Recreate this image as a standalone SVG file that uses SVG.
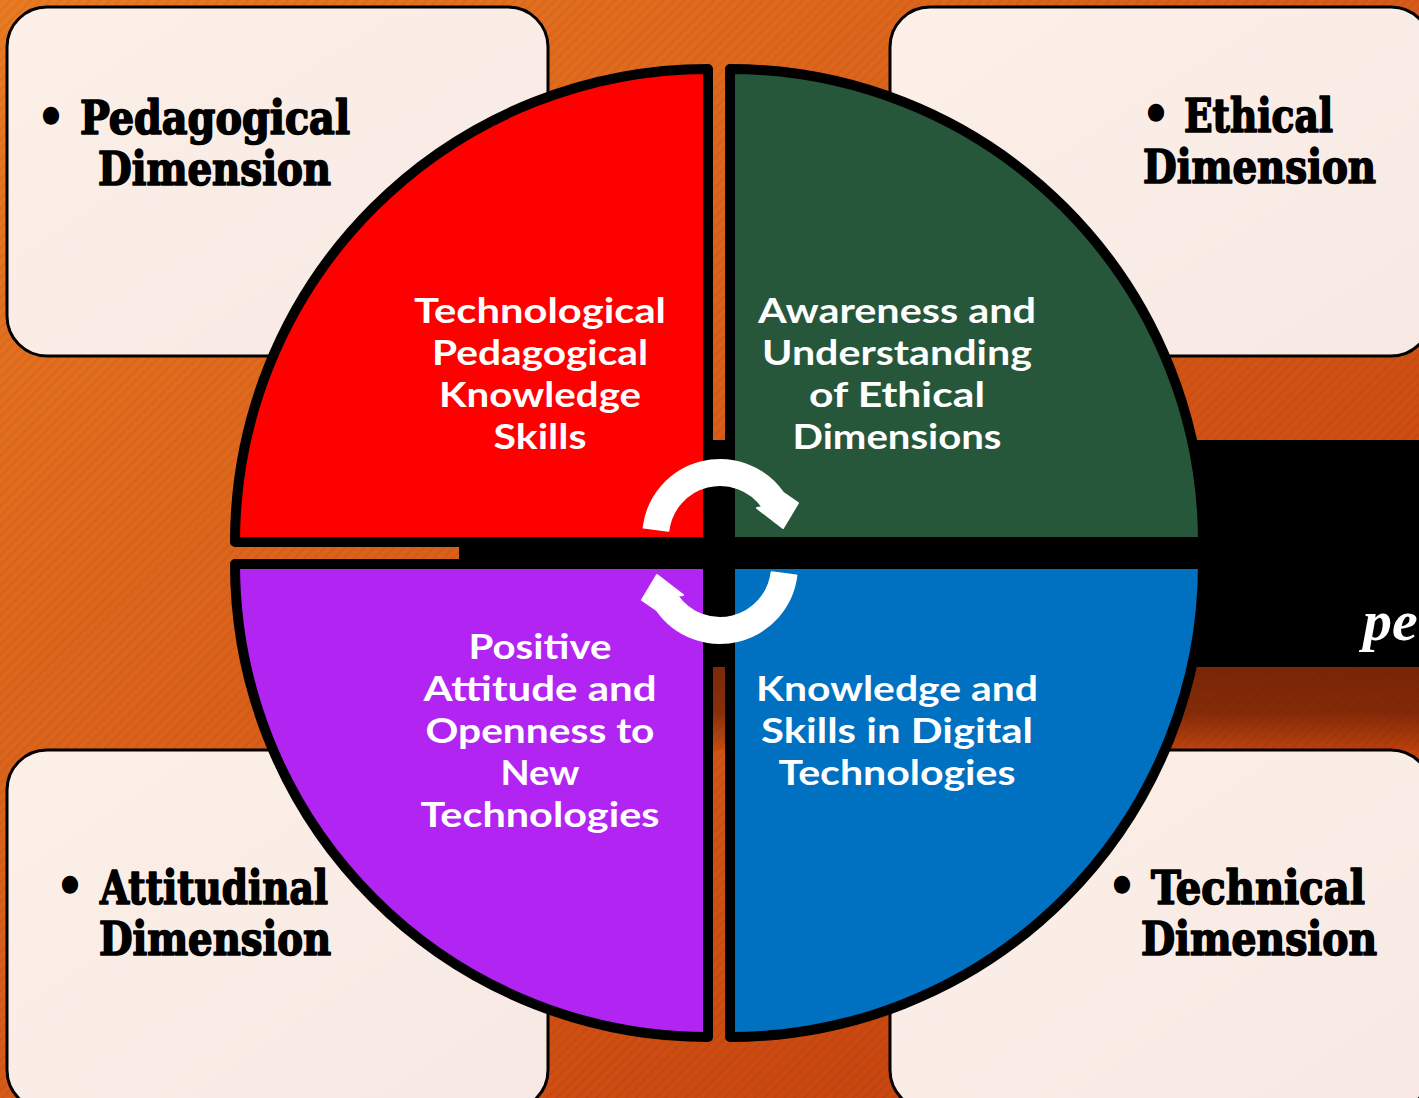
<svg xmlns="http://www.w3.org/2000/svg" width="1419" height="1098" viewBox="0 0 1419 1098">
<defs>
<linearGradient id="bg" x1="0" y1="0" x2="1" y2="1">
<stop offset="0" stop-color="#e97a22"/>
<stop offset="0.5" stop-color="#d75a18"/>
<stop offset="1" stop-color="#bf3a0a"/>
</linearGradient>
<pattern id="stripes" width="7" height="7" patternUnits="userSpaceOnUse" patternTransform="rotate(45)">
<rect width="2" height="7" fill="#000" opacity="0.05"/>
</pattern>
<linearGradient id="boxfill" x1="0" y1="0" x2="1" y2="1">
<stop offset="0" stop-color="#fcf0e8"/>
<stop offset="1" stop-color="#f7e8e3"/>
</linearGradient>
<linearGradient id="shadow" x1="0" y1="0" x2="0" y2="1">
<stop offset="0" stop-color="#5a1803" stop-opacity="0.72"/>
<stop offset="0.55" stop-color="#5a1803" stop-opacity="0.62"/>
<stop offset="1" stop-color="#5a1803" stop-opacity="0.12"/>
</linearGradient>
<style>
.box{fill:url(#boxfill);stroke:#000;stroke-width:3}
.lbl{font-family:"DejaVu Serif Condensed","DejaVu Serif","Liberation Serif",serif;font-stretch:condensed;font-weight:bold;font-size:46px;fill:#000;stroke:#000;stroke-width:1.6px;stroke-linejoin:round}
.q{stroke:#000;stroke-width:10;stroke-linejoin:round}
.qt{font-family:Lato,"Open Sans","Liberation Sans",sans-serif;font-weight:700;font-size:35px;fill:#fff;text-anchor:middle}
.arr{fill:#fff;stroke:#fff;stroke-width:2;stroke-linejoin:round}
</style>
</defs>
<rect x="0" y="0" width="1419" height="1098" fill="url(#bg)"/>
<rect x="0" y="0" width="1419" height="1098" fill="url(#stripes)"/>

<g id="box-pedagogical">
<rect class="box" x="7" y="7" width="541" height="349" rx="40"/>
<text class="lbl" x="51" y="133" text-anchor="middle">•</text>
<text class="lbl" x="80" y="134" textLength="270" lengthAdjust="spacingAndGlyphs">Pedagogical</text>
<text class="lbl" x="98" y="185" textLength="233" lengthAdjust="spacingAndGlyphs">Dimension</text>
</g>
<g id="box-ethical">
<rect class="box" x="890" y="7" width="541" height="349" rx="40"/>
<text class="lbl" x="1156" y="130" text-anchor="middle">•</text>
<text class="lbl" x="1184" y="132" textLength="149" lengthAdjust="spacingAndGlyphs">Ethical</text>
<text class="lbl" x="1143" y="183" textLength="233" lengthAdjust="spacingAndGlyphs">Dimension</text>
</g>
<g id="box-attitudinal">
<rect class="box" x="7" y="750" width="541" height="360" rx="40"/>
<text class="lbl" x="70" y="902" text-anchor="middle">•</text>
<text class="lbl" x="100" y="904" textLength="228" lengthAdjust="spacingAndGlyphs">Attitudinal</text>
<text class="lbl" x="99" y="955" textLength="232" lengthAdjust="spacingAndGlyphs">Dimension</text>
</g>
<g id="box-technical">
<rect class="box" x="890" y="750" width="541" height="360" rx="40"/>
<text class="lbl" x="1122" y="902" text-anchor="middle">•</text>
<text class="lbl" x="1151" y="904" textLength="214" lengthAdjust="spacingAndGlyphs">Technical</text>
<text class="lbl" x="1141" y="955" textLength="236" lengthAdjust="spacingAndGlyphs">Dimension</text>
</g>

<g id="band">
<rect x="459" y="667" width="960" height="83" fill="url(#shadow)"/>
<rect x="459" y="440" width="960" height="227" fill="#000"/>
<text x="1363" y="640" font-family="'Liberation Serif',serif" font-style="italic" font-weight="bold" font-size="58" fill="#fff">pe</text>
</g>

<g id="quadrant-technological">
<path class="q" fill="#ff0000" d="M708,542 L708,69 A473,473 0 0 0 235,542 Z"/>
<text class="qt" x="540" y="323" textLength="252" lengthAdjust="spacingAndGlyphs">Technological</text>
<text class="qt" x="540" y="365" textLength="216" lengthAdjust="spacingAndGlyphs">Pedagogical</text>
<text class="qt" x="540" y="407" textLength="202" lengthAdjust="spacingAndGlyphs">Knowledge</text>
<text class="qt" x="540" y="449" textLength="93" lengthAdjust="spacingAndGlyphs">Skills</text>
</g>
<g id="quadrant-ethical">
<path class="q" fill="#27573b" d="M730,542 L1203,542 A473,473 0 0 0 730,69 Z"/>
<text class="qt" x="897" y="323" textLength="278" lengthAdjust="spacingAndGlyphs">Awareness and</text>
<text class="qt" x="897" y="365" textLength="270" lengthAdjust="spacingAndGlyphs">Understanding</text>
<text class="qt" x="897" y="407" textLength="176" lengthAdjust="spacingAndGlyphs">of Ethical</text>
<text class="qt" x="897" y="449" textLength="209" lengthAdjust="spacingAndGlyphs">Dimensions</text>
</g>
<g id="quadrant-attitude">
<path class="q" fill="#b224f2" d="M708,564 L235,564 A473,473 0 0 0 708,1037 Z"/>
<text class="qt" x="540" y="659" textLength="143" lengthAdjust="spacingAndGlyphs">Positive</text>
<text class="qt" x="540" y="701" textLength="233" lengthAdjust="spacingAndGlyphs">Attitude and</text>
<text class="qt" x="540" y="743" textLength="229" lengthAdjust="spacingAndGlyphs">Openness to</text>
<text class="qt" x="540" y="785" textLength="79" lengthAdjust="spacingAndGlyphs">New</text>
<text class="qt" x="540" y="827" textLength="239" lengthAdjust="spacingAndGlyphs">Technologies</text>
</g>
<g id="quadrant-technical">
<path class="q" fill="#0070c0" d="M730,564 L730,1037 A473,473 0 0 0 1203,564 Z"/>
<text class="qt" x="897" y="701" textLength="282" lengthAdjust="spacingAndGlyphs">Knowledge and</text>
<text class="qt" x="897" y="743" textLength="272" lengthAdjust="spacingAndGlyphs">Skills in Digital</text>
<text class="qt" x="897" y="785" textLength="237" lengthAdjust="spacingAndGlyphs">Technologies</text>
</g>

<g id="connectors">
<path id="arrow-top" class="arr" d="M643.6,527.6 A77,77 0 0 1 783.1,492.8 L798,503 L783,528 L757,508 L762.6,507.2 A52,52 0 0 0 668.4,530.7 Z"/>
<path id="arrow-bottom" class="arr" transform="rotate(180 720 551.5)" d="M643.6,527.6 A77,77 0 0 1 783.1,492.8 L798,503 L783,528 L757,508 L762.6,507.2 A52,52 0 0 0 668.4,530.7 Z"/>
</g>
</svg>
